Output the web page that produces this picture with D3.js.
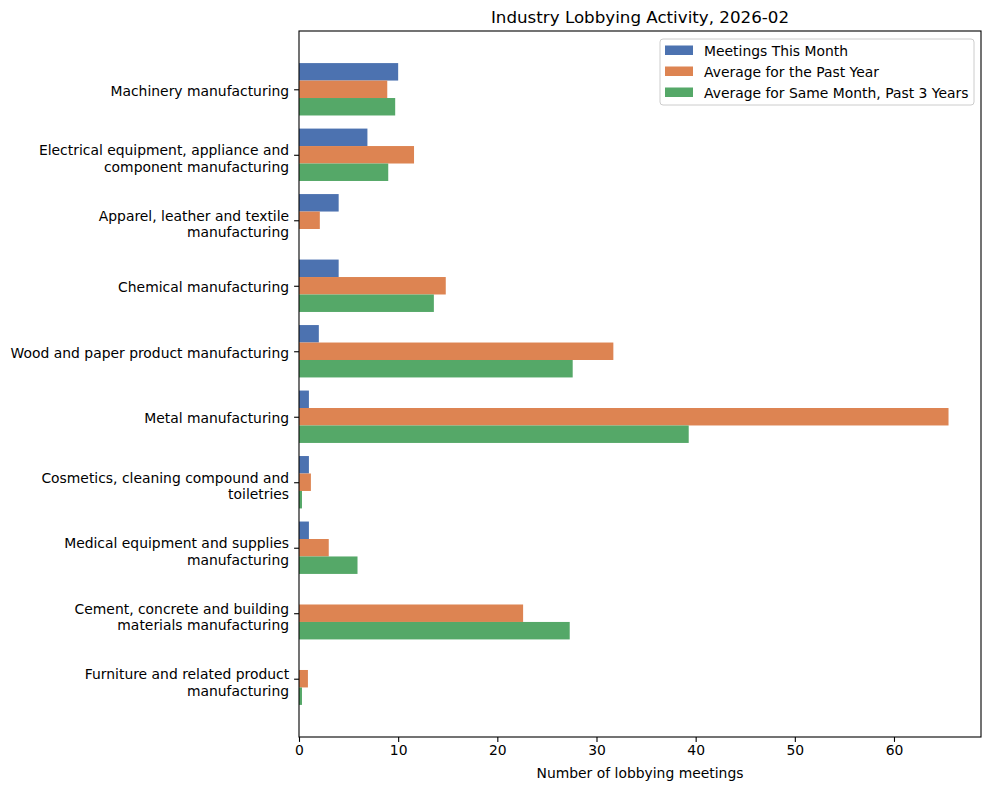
<!DOCTYPE html>
<html>
<head>
<meta charset="utf-8">
<script src="https://cdn.jsdelivr.net/npm/d3@7"></script>
<style>
  body { margin: 0; background: #fff; }
  svg { font-family: "DejaVu Sans", sans-serif; }
</style>
</head>
<body>
<div id="chart"></div>
<script>
// categories (wrapped tick labels, top to bottom)
const categories = [
    ['Machinery manufacturing'],
    ['Electrical equipment, appliance and', 'component manufacturing'],
    ['Apparel, leather and textile', 'manufacturing'],
    ['Chemical manufacturing'],
    ['Wood and paper product manufacturing'],
    ['Metal manufacturing'],
    ['Cosmetics, cleaning compound and', 'toiletries'],
    ['Medical equipment and supplies', 'manufacturing'],
    ['Cement, concrete and building', 'materials manufacturing'],
    ['Furniture and related product', 'manufacturing']
];

// series values
const meetingsThisMonth = [10, 6.9, 4, 4, 2, 1, 1, 1, 0, 0];
const averagePastYear = [8.9, 11.6, 2.1, 14.8, 31.7, 65.5, 1.2, 3.0, 22.6, 0.9];
const averageSameMonth = [9.7, 9.0, 0, 13.6, 27.6, 39.3, 0.3, 5.9, 27.3, 0.3];

const seriesNames = ['Meetings This Month', 'Average for the Past Year', 'Average for Same Month, Past 3 Years'];
const seriesValues = [meetingsThisMonth, averagePastYear, averageSameMonth];
const colors = ['#4c72b0', '#dd8452', '#55a868'];

const xTicks = [0, 10, 20, 30, 40, 50, 60];

// layout
const svgWidth = 990, svgHeight = 790;
const margin = { top: 31, right: 9, bottom: 53, left: 299 };
const width = svgWidth - margin.left - margin.right;
const height = svgHeight - margin.top - margin.bottom;
const barH = 0.8 / 3;

const svg = d3.select('#chart')
    .append('svg')
    .attr('width', svgWidth)
    .attr('height', svgHeight);

const g = svg.append('g')
    .attr('transform', 'translate(' + margin.left + ',' + margin.top + ')');

// x scale, matplotlib style margin on the max
const xMax = d3.max(seriesValues.flat()) * 1.05;
const x = d3.scaleLinear()
    .domain([0, xMax])
    .range([0, width]);

// y scale on group index
const yLo = -0.4 - 0.49, yHi = categories.length - 1 + 0.4 + 0.49;
const y = d3.scaleLinear()
    .domain([yLo, yHi])
    .range([0, height]);

// bars
seriesValues.forEach(function (vals, s) {
    g.append('g')
        .selectAll('rect')
        .data(vals)
        .join('rect')
        .attr('x', x(0))
        .attr('y', function (d, i) { return y(i + (s - 1) * barH - barH / 2); })
        .attr('width', function (d) { return x(d) - x(0); })
        .attr('height', y(barH) - y(0))
        .attr('fill', colors[s]);
});

// x axis
const xAxis = g.append('g')
    .attr('transform', 'translate(0,' + height + ')')
    .call(d3.axisBottom(x).tickValues(xTicks).tickSize(4.9).tickPadding(3.5).tickFormat(d3.format('d')));
xAxis.select('.domain').remove();
xAxis.selectAll('line').attr('stroke', '#000').attr('stroke-width', 1.1);
xAxis.selectAll('text').attr('font-size', '13.9px').attr('fill', '#000').attr('font-family', 'DejaVu Sans');

// y axis
const yAxis = g.append('g')
    .call(d3.axisLeft(y).tickValues(d3.range(categories.length)).tickSize(4.9).tickPadding(5).tickFormat(''));
yAxis.select('.domain').remove();
yAxis.selectAll('line').attr('stroke', '#000').attr('stroke-width', 1.1);
yAxis.selectAll('.tick text')
    .attr('font-size', '13.9px')
    .attr('fill', '#000')
    .attr('font-family', 'DejaVu Sans')
    .attr('dy', null)
    .each(function (d) {
        const lines = categories[d];
        const t = d3.select(this);
        lines.forEach(function (line, k) {
            const off = lines.length === 1 ? 6 : (k === 0 ? 0 : 16.3);
            t.append('tspan')
                .attr('x', -9.9)
                .attr('y', off)
                .text(line);
        });
    });

// frame
g.append('rect')
    .attr('x', 0)
    .attr('y', 0)
    .attr('width', width)
    .attr('height', height)
    .attr('fill', 'none')
    .attr('stroke', '#000')
    .attr('stroke-width', 1.1);

// title
svg.append('text')
    .attr('x', margin.left + width / 2)
    .attr('y', 23)
    .attr('text-anchor', 'middle')
    .attr('font-size', '16.7px')
    .text('Industry Lobbying Activity, 2026-02');

// x label
svg.append('text')
    .attr('x', margin.left + width / 2)
    .attr('y', 778)
    .attr('text-anchor', 'middle')
    .attr('font-size', '13.9px')
    .text('Number of lobbying meetings');

// legend
const legend = svg.append('g').attr('transform', 'translate(660,39)');
legend.append('rect')
    .attr('width', 314)
    .attr('height', 66)
    .attr('rx', 3)
    .attr('fill', '#fff')
    .attr('fill-opacity', 0.8)
    .attr('stroke', '#cccccc')
    .attr('stroke-width', 1);
seriesNames.forEach(function (name, s) {
    const row = legend.append('g').attr('transform', 'translate(0,' + (12 + s * 21) + ')');
    row.append('rect')
        .attr('x', 5)
        .attr('y', -5.5)
        .attr('width', 28)
        .attr('height', 9.5)
        .attr('fill', colors[s]);
    row.append('text')
        .attr('x', 44)
        .attr('y', 5)
        .attr('font-size', '13.9px')
        .text(name);
});
</script>
</body>
</html>
